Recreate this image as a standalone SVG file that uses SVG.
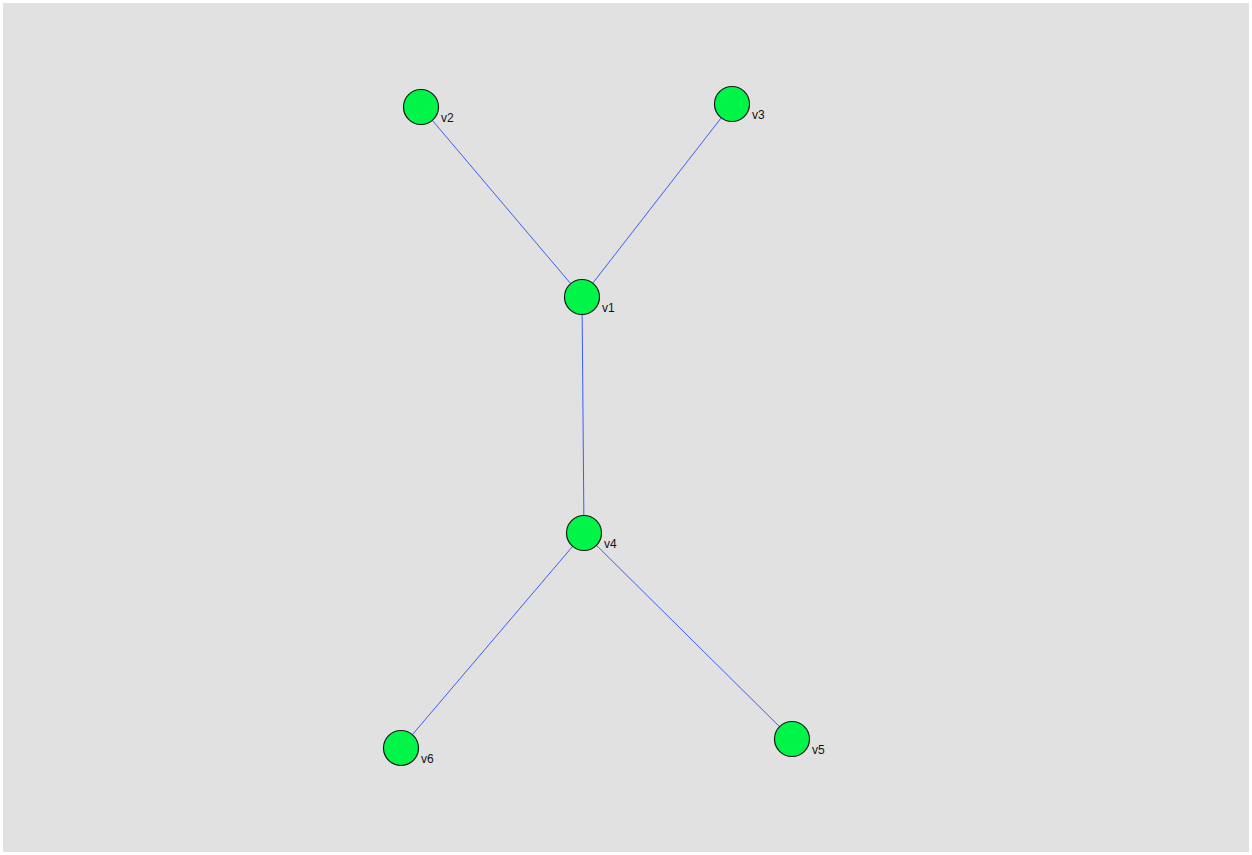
<svg xmlns="http://www.w3.org/2000/svg" width="1252" height="855" viewBox="0 0 1252 855">
<style>
.edge{stroke:#3c5cff;stroke-width:1;fill:none}
.node circle{fill:#00f548;stroke:#1a1a1a;stroke-width:1.2}
.node text{font-family:"Liberation Sans",Arial,sans-serif;font-size:12px;fill:#111}
</style>
<rect x="0" y="0" width="1252" height="855" fill="#ffffff"/>
<rect x="3" y="3" width="1246" height="849" fill="#e1e1e1"/>
<g id="connectors">
<line class="edge" x1="421" y1="107" x2="582" y2="297"/>
<line class="edge" x1="732" y1="104" x2="582" y2="297"/>
<line class="edge" x1="582" y1="297" x2="584" y2="533"/>
<line class="edge" x1="584" y1="533" x2="401" y2="748"/>
<line class="edge" x1="584" y1="533" x2="792" y2="739"/>
</g>
<g id="v2" class="node"><circle cx="421" cy="107" r="17.5"/><text x="441" y="122">v2</text></g>
<g id="v3" class="node"><circle cx="732" cy="104" r="17.5"/><text x="752" y="119">v3</text></g>
<g id="v1" class="node"><circle cx="582" cy="297" r="17.5"/><text x="602" y="312">v1</text></g>
<g id="v4" class="node"><circle cx="584" cy="533" r="17.5"/><text x="604" y="548">v4</text></g>
<g id="v6" class="node"><circle cx="401" cy="748" r="17.5"/><text x="421" y="763">v6</text></g>
<g id="v5" class="node"><circle cx="792" cy="739" r="17.5"/><text x="812" y="754">v5</text></g>
</svg>
